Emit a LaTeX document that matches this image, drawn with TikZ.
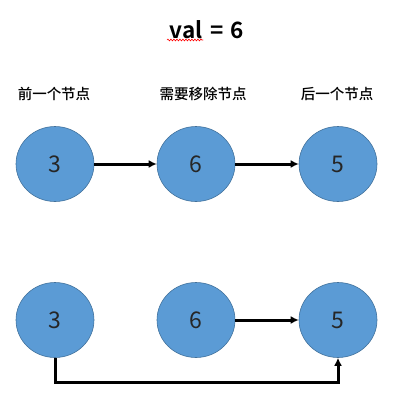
\documentclass[tikz,border=0pt]{standalone}
\usepackage{fontspec}
\setmainfont{Noto Sans CJK SC}[BoldFont={Noto Sans CJK SC Bold}]
\newfontfamily\capfont{Noto Sans CJK SC Medium}
\usetikzlibrary{shapes.geometric,arrows.meta,decorations.pathmorphing}
\definecolor{nodeblue}{HTML}{5B9BD5}
\definecolor{nodeedge}{HTML}{41719C}
\definecolor{digitgray}{HTML}{262626}

\begin{document}
\begin{tikzpicture}[x=1pt,y=-1pt,line cap=round,>={Latex[length=8pt,width=8pt]},
  listnode/.style={ellipse,draw=nodeedge,line width=0.6pt,fill=nodeblue,
    minimum width=78pt,minimum height=75pt,inner sep=0pt,
    text=digitgray,font=\fontsize{23}{23}\selectfont},
  caption/.style={font=\capfont\fontsize{14.5}{15}\selectfont},
  link/.style={line width=3pt,->,line cap=butt}]
  \useasboundingbox (0,0) rectangle (407,410);
  % title
  \node[font=\bfseries\fontsize{22.5}{23}\selectfont] (title) at (207,30) {val\,\,=\,\,6};
  \draw[red,line width=0.6pt,decorate,decoration={snake,amplitude=0.9pt,segment length=3pt}]
    (167,40) -- (203,40);
  % labels
  \node[caption] (lprev) at (54,94) {前一个节点};
  \node[caption] (ldel) at (203,94) {需要移除节点};
  \node[caption] (lnext) at (337,94) {后一个节点};
  % before removal
  \node[listnode] (a1) at (55,164) {3};
  \node[listnode] (a2) at (196,164) {6};
  \node[listnode] (a3) at (338,164) {5};
  \draw[link] (a1) -- (a2);
  \draw[link] (a2) -- (a3);
  % after removal
  \node[listnode] (b1) at (55,320) {3};
  \node[listnode] (b2) at (196,320) {6};
  \node[listnode] (b3) at (338,320) {5};
  \draw[link] (b2) -- (b3);
  \draw[link] (b1.south) -- ++(0,25) -| (b3.south);
\end{tikzpicture}
\end{document}
